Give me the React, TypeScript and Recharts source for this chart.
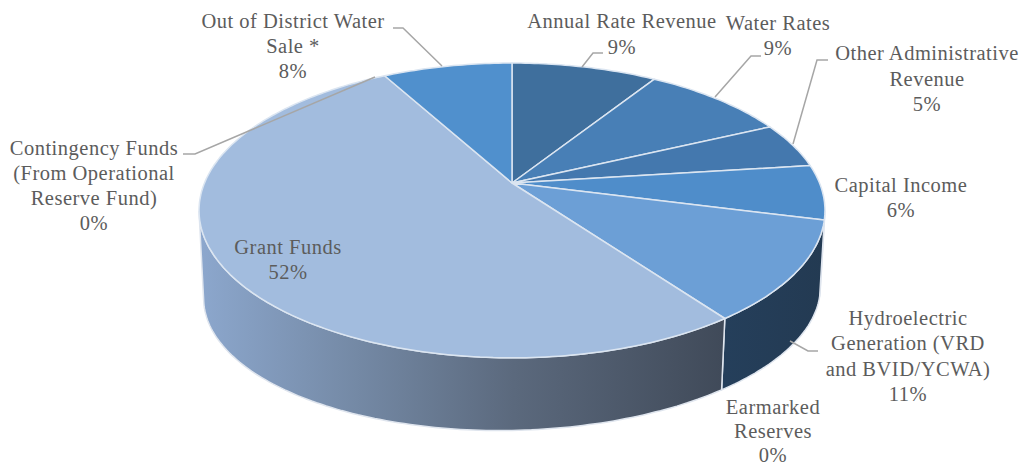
import React from "react";
import { PieChart, Pie } from "recharts";

// Revenue sources, clockwise from twelve o'clock.
const categories = [
  "Annual Rate Revenue",
  "Water Rates",
  "Other Administrative Revenue",
  "Capital Income",
  "Hydroelectric Generation (VRD and BVID/YCWA)",
  "Earmarked Reserves",
  "Grant Funds",
  "Contingency Funds (From Operational Reserve Fund)",
  "Out of District Water Sale *",
];
const shares = [9, 9, 5, 6, 11, 0, 52, 0, 8];

const topColors = ["#3f6f9d", "#487fb6", "#4478ae", "#4f8dca", "#6c9fd6", "#7f9ac0", "#a2bcde", "#a2bcde", "#5090cd"];
const wallColors = ["#24384f", "#2a435f", "#263c55", "#263d56", "url(#hydroWall)", "#3f4a5a", "url(#grantWall)", "#8ba6cc", "#2f4f73"];

const labelLines = [
  ["Annual Rate Revenue"],
  ["Water Rates"],
  ["Other Administrative", "Revenue"],
  ["Capital Income"],
  ["Hydroelectric", "Generation (VRD", "and BVID/YCWA)"],
  ["Earmarked", "Reserves"],
  ["Grant Funds"],
  ["Contingency Funds", "(From Operational", "Reserve Fund)"],
  ["Out of District Water", "Sale *"],
];

// Label anchor: horizontal centre, first baseline, line pitch.
const labelAnchors = [
  [622, 28, 25.5],
  [778, 30, 25],
  [927, 60, 25.5],
  [901, 192, 25],
  [908, 325, 25.3],
  [773, 414, 24],
  [288, 254, 24.5],
  [94, 155, 25],
  [293, 28, 25],
];

// Leader lines from label to slice edge.
const leaders: (number[][] | null)[] = [
  [[603, 53], [593, 53], [582, 67]],
  [[761, 56], [751, 56], [715, 97]],
  [[828, 60], [817, 60], [793, 144]],
  null,
  [[818, 351], [808, 351], [790, 341]],
  null,
  null,
  [[183, 154], [195, 154], [375, 77]],
  [[393, 28], [403, 28], [442, 66]],
];

// Perspective projection of the disc: top face and underside.
const topFace = { a: 307.5, b: 142.3, k: 0.186, dy: 0, tilt: 0 };
const underside = { a: 303, b: 133, k: 0.186, dy: 84, tilt: -0.018 };

// The side wall is only seen between the two silhouette tangents of the disc.
const wallFrom = 101;
const wallTo = 259;

const project = (cx: number, cy: number, deg: number, f: typeof topFace) => {
  const t = (deg * Math.PI) / 180;
  const u = Math.sin(t);
  const v = Math.cos(t);
  const d = 1 + f.k * v;
  const dx = (f.a * u) / d;
  return [cx + dx, cy + f.dy - (f.b * v) / d + f.tilt * dx];
};

const arc = (cx: number, cy: number, from: number, to: number, f: typeof topFace) => {
  const pts: number[][] = [];
  const n = Math.max(1, Math.ceil(Math.abs(to - from)));
  for (let i = 0; i <= n; i++) pts.push(project(cx, cy, from + ((to - from) * i) / n, f));
  return pts;
};

const toPath = (pts: number[][]) =>
  pts.map((p, i) => `${i ? "L" : "M"}${p[0].toFixed(1)} ${p[1].toFixed(1)}`).join(" ") + " Z";

const TopSlice = (props: any) => {
  const { cx, cy, startAngle, endAngle, fill } = props;
  if (startAngle === endAngle) return <g />;
  const pts = [[cx, cy], ...arc(cx, cy, 90 - startAngle, 90 - endAngle, topFace)];
  return <path d={toPath(pts)} fill={fill} stroke="#dbe5f1" strokeWidth={1.5} strokeLinejoin="round" />;
};

const WallSlice = (props: any) => {
  const { cx, cy, startAngle, endAngle, fill } = props;
  const from = Math.max(90 - startAngle, wallFrom);
  const to = Math.min(90 - endAngle, wallTo);
  if (to <= from) return <g />;
  const pts = [...arc(cx, cy, from, to, topFace), ...arc(cx, cy, to, from, underside)];
  return <path d={toPath(pts)} fill={fill} stroke="#dfe5ee" strokeWidth={1.5} strokeLinejoin="round" />;
};

const SliceLabel = (props: any) => {
  const { index, value } = props;
  const [x, y, pitch] = labelAnchors[index];
  const lines = [...labelLines[index], `${value}%`];
  const leader = leaders[index];
  return (
    <g>
      {leader && (
        <polyline
          points={leader.map((p) => p.join(",")).join(" ")}
          fill="none"
          stroke="#a6a6a6"
          strokeWidth={1.5}
        />
      )}
      <text
        x={x}
        y={y}
        textAnchor="middle"
        fill="#5c5c5c"
        fontFamily="'Liberation Serif', serif"
        fontSize={20.5}
        letterSpacing={0.5}
      >
        {lines.map((line, i) => (
          <tspan key={i} x={x} y={y + i * pitch}>
            {line}
          </tspan>
        ))}
      </text>
    </g>
  );
};

const rows = categories.map((name, i) => ({ name, value: shares[i] }));
const topRows = rows.map((r, i) => ({ ...r, fill: topColors[i] }));
const wallRows = rows.map((r, i) => ({ ...r, fill: wallColors[i] }));

export default function App() {
  return (
    <div style={{ position: "absolute", left: 0, top: 0 }}>
      <PieChart width={1024} height={466} margin={{ top: 0, right: 0, bottom: 0, left: 0 }}>
        <defs>
          <linearGradient id="grantWall" gradientUnits="userSpaceOnUse" x1="200" y1="0" x2="723" y2="0">
            <stop offset="0" stopColor="#8ca7cd" />
            <stop offset="0.3" stopColor="#7489a5" />
            <stop offset="0.6" stopColor="#5b697d" />
            <stop offset="1" stopColor="#404a59" />
          </linearGradient>
          <linearGradient id="hydroWall" gradientUnits="userSpaceOnUse" x1="723" y1="0" x2="825" y2="0">
            <stop offset="0" stopColor="#253f5b" />
            <stop offset="1" stopColor="#233a52" />
          </linearGradient>
        </defs>
        <Pie
          data={wallRows}
          dataKey="value"
          nameKey="name"
          cx={512}
          cy={183}
          outerRadius={120}
          startAngle={90}
          endAngle={-270}
          shape={WallSlice}
          isAnimationActive={false}
          label={false}
          labelLine={false}
        />
        <Pie
          data={topRows}
          dataKey="value"
          nameKey="name"
          cx={512}
          cy={183}
          outerRadius={120}
          startAngle={90}
          endAngle={-270}
          shape={TopSlice}
          isAnimationActive={false}
          label={SliceLabel}
          labelLine={false}
        />
      </PieChart>
    </div>
  );
}
